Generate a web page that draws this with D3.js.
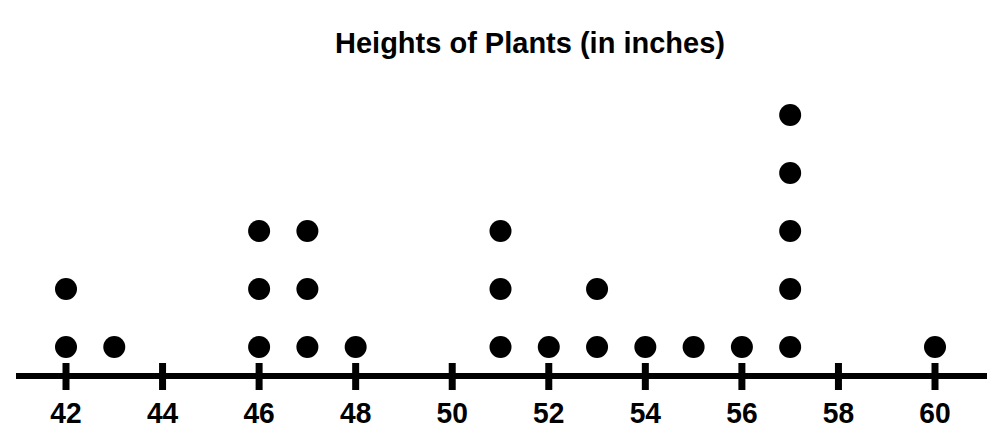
<!DOCTYPE html>
<html>
<head>
<meta charset="utf-8">
<script src="https://cdn.jsdelivr.net/npm/d3@7"></script>
<style>
  body { margin: 0; background: #fff; }
  text { font-family: "Liberation Sans", Arial, sans-serif; font-weight: bold; fill: #000; }
</style>
</head>
<body>
<svg width="1000" height="442"></svg>
<script>
// heights, one dot each
var heights = [42, 42, 43, 46, 46, 46, 47, 47, 47, 48, 51, 51, 51, 52, 53, 53, 54, 55, 56, 57, 57, 57, 57, 57, 60];
var tickValues = [42, 44, 46, 48, 50, 52, 54, 56, 58, 60];
var title = "Heights of Plants (in inches)";

var svg = d3.select("svg");

var x = d3.scaleLinear().domain([42, 60]).range([66, 935]);
var y = d3.scaleLinear().domain([1, 5]).range([347, 115]);

// stack count for each value
var counts = {};
var dots = heights.map(function(h) {
    counts[h] = (counts[h] || 0) + 1;
    return { value: h, level: counts[h] };
});

svg.append("text")
    .attr("x", 530)
    .attr("y", 53)
    .attr("text-anchor", "middle")
    .style("font-size", "29px")
    .text(title);

var axisY = 376;

svg.append("line")
    .attr("x1", 16).attr("x2", 987)
    .attr("y1", axisY).attr("y2", axisY)
    .attr("stroke", "#000")
    .attr("stroke-width", 6);

svg.selectAll(".tick")
    .data(tickValues)
    .enter().append("line")
    .attr("class", "tick")
    .attr("x1", function(d) { return x(d); })
    .attr("x2", function(d) { return x(d); })
    .attr("y1", 363).attr("y2", 390)
    .attr("stroke", "#000")
    .attr("stroke-width", 7);

svg.selectAll(".tick-label")
    .data(tickValues)
    .enter().append("text")
    .attr("class", "tick-label")
    .attr("text-anchor", "middle")
    .attr("transform", function(d) { return "translate(" + x(d) + ",423) scale(0.94,1)"; })
    .style("font-size", "30px")
    .text(function(d) { return d; });

svg.selectAll(".dot")
    .data(dots)
    .enter().append("circle")
    .attr("class", "dot")
    .attr("cx", function(d) { return x(d.value); })
    .attr("cy", function(d) { return y(d.level); })
    .attr("r", 11)
    .attr("fill", "#000");
</script>
</body>
</html>
